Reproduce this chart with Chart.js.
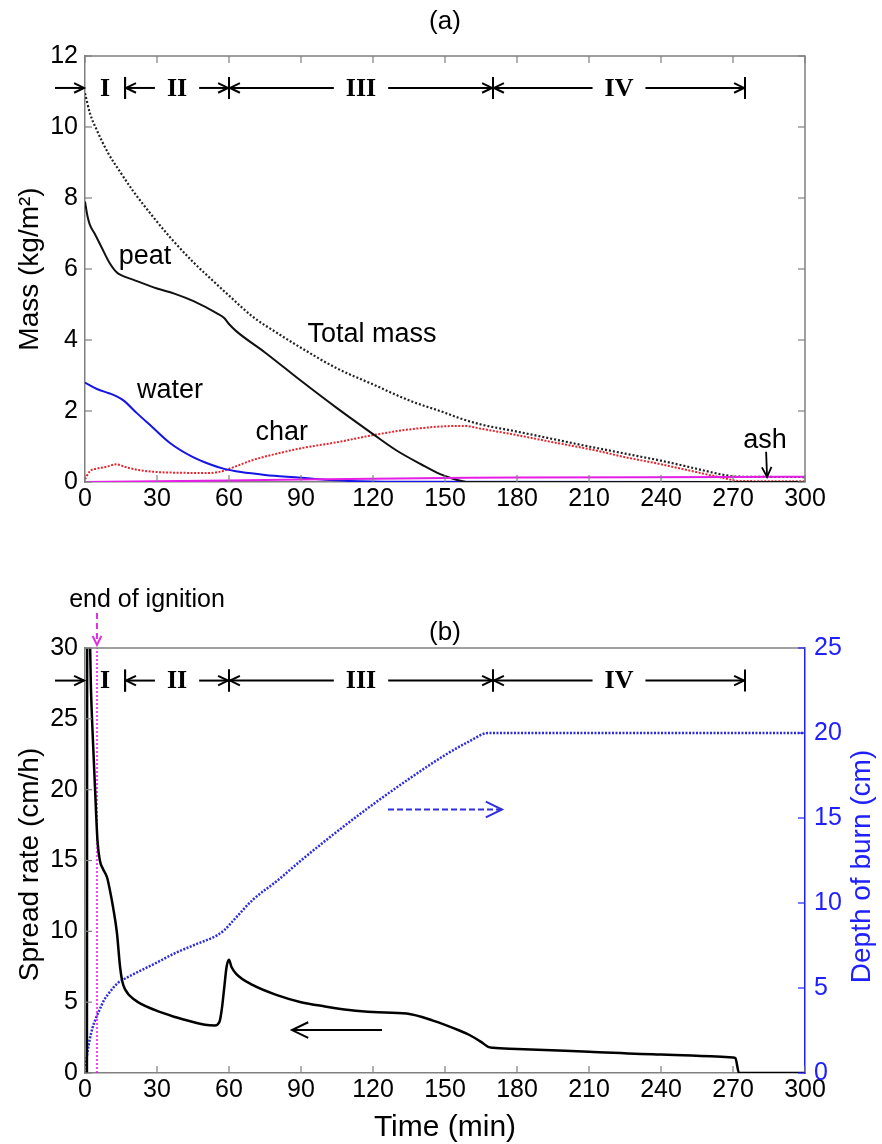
<!DOCTYPE html>
<html>
<head>
<meta charset="utf-8">
<script src="https://cdn.jsdelivr.net/npm/chart.js@4.4.1/dist/chart.umd.min.js"></script>
<style>
  html, body { margin: 0; padding: 0; background: #fff; }
  #wrap { position: relative; width: 882px; height: 1144px; }
  canvas { position: absolute; left: 0; }
  #chartA { top: 0; }
  #chartB { top: 580px; }
</style>
</head>
<body>
<div id="wrap">
  <canvas id="chartA" width="882" height="530"></canvas>
  <canvas id="chartB" width="882" height="564"></canvas>
</div>
<script>
// ---------- (a) mass of each component, kg/m2, against time in min ----------
const totalT    = [0, 2, 5, 9.6, 15, 20, 28, 36, 45, 52, 60, 70, 80, 90, 105, 120, 135, 150, 156, 165, 180, 195, 210, 225, 240, 250, 260, 267, 272, 300];
const totalMass = [10.95, 10.4, 9.9, 9.27, 8.7, 8.2, 7.5, 6.85, 6.2, 5.75, 5.25, 4.65, 4.2, 3.78, 3.2, 2.75, 2.3, 1.95, 1.8, 1.62, 1.42, 1.21, 1.0, 0.8, 0.6, 0.45, 0.29, 0.19, 0.15, 0.14];

const peatT    = [0, 1, 2, 4, 7, 10, 13.3, 15, 20, 30, 37.5, 45, 55, 58, 60, 63, 75, 90, 105, 120, 130, 140, 148, 153, 157, 160, 300];
const peatMass = [7.9, 7.5, 7.25, 7.0, 6.6, 6.2, 5.9, 5.83, 5.7, 5.45, 5.3, 5.1, 4.75, 4.62, 4.45, 4.25, 3.65, 2.85, 2.08, 1.35, 0.88, 0.5, 0.22, 0.1, 0.03, 0, 0];

const waterT    = [0, 5, 10, 13, 16, 21.6, 28, 35.4, 45, 52, 58, 65, 75, 90, 100, 110, 130, 300];
const waterMass = [2.8, 2.62, 2.5, 2.42, 2.3, 1.94, 1.55, 1.1, 0.7, 0.5, 0.37, 0.28, 0.2, 0.12, 0.06, 0.03, 0.01, 0];

const charT    = [0, 2, 5, 9, 13, 17, 22, 30, 40, 50, 57, 62, 70, 80, 90, 105, 120, 135, 150, 158, 165, 180, 195, 212, 225, 240, 250, 260, 267, 272, 300];
const charMass = [0.08, 0.3, 0.38, 0.43, 0.5, 0.42, 0.34, 0.28, 0.26, 0.25, 0.3, 0.42, 0.62, 0.8, 0.95, 1.12, 1.32, 1.48, 1.57, 1.58, 1.5, 1.32, 1.12, 0.9, 0.7, 0.5, 0.35, 0.2, 0.1, 0.03, 0.02];

const ashT    = [0, 30, 60, 90, 120, 150, 180, 270, 300];
const ashMass = [0, 0.02, 0.04, 0.07, 0.09, 0.11, 0.13, 0.14, 0.15];

// ---------- (b) spread rate (cm/h) and depth of burn (cm) ----------
const spreadT = [0, 0.8, 0.9, 2, 2.5, 3.3, 4.2, 5.2, 6.2, 7.5, 9.2, 10.5, 11.7, 13.3, 14.6, 15.5, 16.7, 20.8, 29, 37.5, 45, 50, 54, 56, 57, 58, 59, 60, 61, 63, 70, 80, 90, 100, 110, 120, 134, 145, 156, 160, 165, 168, 170, 180, 210, 240, 270, 271, 272.5, 300];
const spreadRate = [0, 0, 30.5, 30.5, 27, 23.5, 20, 16.4, 15, 14.4, 13.8, 12.8, 11.7, 9.9, 7.5, 6.5, 5.9, 5.15, 4.45, 3.95, 3.6, 3.4, 3.35, 3.6, 4.5, 6, 7.5, 8, 7.5, 7, 6.2, 5.5, 5.0, 4.7, 4.45, 4.3, 4.2, 3.7, 3.0, 2.7, 2.2, 1.85, 1.78, 1.7, 1.5, 1.3, 1.1, 1.05, 0, 0];

const depthT = [0, 1, 2, 3, 4.2, 6, 8, 10, 13.7, 16, 20, 30, 37.5, 45, 55, 58, 62, 70, 80, 90, 105, 120, 135, 150, 160, 168, 300];
const depthBurn = [0, 1.2, 2.0, 2.6, 3.1, 3.7, 4.3, 4.7, 5.3, 5.5, 5.8, 6.5, 7.05, 7.5, 8.1, 8.4, 9.0, 10.2, 11.3, 12.5, 14.2, 15.8, 17.3, 18.7, 19.5, 20, 20];

const ignitionT = [5, 5];
const ignitionY = [0, 30];

// phases of the burn (minutes)
const phaseEdges = [0, 16.7, 60, 170, 275];
const phaseNames = ['I', 'II', 'III', 'IV'];

const xTicks = { min: 0, max: 300, step: 30 };

// ---------- helpers ----------
const SANS = '"Liberation Sans", Arial, sans-serif';
const SERIF = '"Liberation Serif", "Times New Roman", serif';
const tickFont = { family: SANS, size: 25 };

function series(t, v, color, dash, width, axis, mode) {
  return {
    data: t.map((x, i) => ({ x: x, y: v[i] })),
    borderColor: color,
    borderDash: dash || [],
    borderWidth: width || 2,
    pointRadius: 0,
    fill: false,
    tension: 0,
    cubicInterpolationMode: mode || 'default',
    yAxisID: axis || 'y'
  };
}

function line(ctx, x1, y1, x2, y2) {
  ctx.beginPath(); ctx.moveTo(x1, y1); ctx.lineTo(x2, y2); ctx.stroke();
}

function arrow(ctx, x1, y1, x2, y2, head, color, width, dash) {
  ctx.save();
  ctx.strokeStyle = color; ctx.lineWidth = width;
  ctx.setLineDash(dash || []);
  line(ctx, x1, y1, x2, y2);
  ctx.setLineDash([]);
  const a = Math.atan2(y2 - y1, x2 - x1);
  ctx.beginPath();
  ctx.moveTo(x2 - head * Math.cos(a - 0.45), y2 - head * Math.sin(a - 0.45));
  ctx.lineTo(x2, y2);
  ctx.lineTo(x2 - head * Math.cos(a + 0.45), y2 - head * Math.sin(a + 0.45));
  ctx.stroke();
  ctx.restore();
}

function text(ctx, str, x, y, font, color, align) {
  ctx.save();
  ctx.font = font; ctx.fillStyle = color || '#000';
  ctx.textAlign = align || 'center'; ctx.textBaseline = 'middle';
  ctx.fillText(str, x, y);
  ctx.restore();
}

function vtext(ctx, str, x, y, font, color) {
  ctx.save();
  ctx.translate(x, y); ctx.rotate(-Math.PI / 2);
  text(ctx, str, 0, 0, font, color);
  ctx.restore();
}

// the I / II / III / IV arrows along the top of each panel
function drawPhases(chart, yScale, yVal) {
  const ctx = chart.ctx, xs = chart.scales.x;
  const py = chart.scales[yScale].getPixelForValue(yVal);
  const font = 'bold 26px ' + SERIF;
  ctx.save();
  ctx.strokeStyle = '#000'; ctx.lineWidth = 2;
  ctx.font = font;
  phaseNames.forEach((name, i) => {
    const L = xs.getPixelForValue(phaseEdges[i]);
    const R = xs.getPixelForValue(phaseEdges[i + 1]);
    const M = (L + R) / 2;
    const w = ctx.measureText(name).width;
    text(ctx, name, M, py + 1, font, '#000');
    if (i === 0) {
      arrow(ctx, L - 30, py, L - 1, py, 11, '#000', 2);
    } else {
      line(ctx, L, py - 11, L, py + 11);
      arrow(ctx, M - w / 2 - 12, py, L + 1, py, 11, '#000', 2);
      arrow(ctx, M + w / 2 + 12, py, R - 1, py, 11, '#000', 2);
    }
    line(ctx, R, py - 11, R, py + 11);
  });
  ctx.restore();
}

function inwardTicks(ctx, scale, area, side, color) {
  ctx.save();
  ctx.strokeStyle = color; ctx.lineWidth = 1.2;
  scale.ticks.forEach(t => {
    const p = scale.getPixelForValue(t.value);
    if (side === 'bottom') line(ctx, p, area.bottom, p, area.bottom - 7);
    if (side === 'top') line(ctx, p, area.top, p, area.top + 7);
    if (side === 'left') line(ctx, area.left, p, area.left + 7, p);
    if (side === 'right') line(ctx, area.right, p, area.right - 7, p);
  });
  ctx.restore();
}

function xScaleOpts(h) {
  return {
    type: 'linear', min: xTicks.min, max: xTicks.max,
    ticks: { stepSize: xTicks.step, font: tickFont, color: '#000', padding: 2, maxRotation: 0, autoSkip: false },
    grid: { display: false, drawTicks: false },
    border: { color: '#808080', width: 1.5 },
    afterFit(s) { s.height = h; }
  };
}

// ---------- panel (a) ----------
const panelA = {
  id: 'panelA',
  afterDraw(chart) {
    const { ctx, chartArea: a, scales: { x, y } } = chart;
    const P = (t, v) => [x.getPixelForValue(t), y.getPixelForValue(v)];
    ctx.save();
    ctx.strokeStyle = '#808080'; ctx.lineWidth = 1.5;
    ctx.beginPath(); ctx.moveTo(a.left, a.top); ctx.lineTo(a.right, a.top); ctx.lineTo(a.right, a.bottom); ctx.stroke();
    ctx.restore();
    inwardTicks(ctx, x, a, 'bottom', '#808080');
    inwardTicks(ctx, x, a, 'top', '#808080');
    inwardTicks(ctx, y, a, 'left', '#808080');
    inwardTicks(ctx, y, a, 'right', '#808080');

    text(ctx, '(a)', (a.left + a.right) / 2, a.top - 34, '26px ' + SANS);
    vtext(ctx, 'Mass (kg/m²)', 30, (a.top + a.bottom) / 2, '28px ' + SANS);

    const lab = '27px ' + SANS;
    let p;
    p = P(25, 6.34);   text(ctx, 'peat', p[0], p[1], lab);
    p = P(119.6, 4.14); text(ctx, 'Total mass', p[0], p[1], lab);
    p = P(35.4, 2.59); text(ctx, 'water', p[0], p[1], lab);
    p = P(82, 1.38);   text(ctx, 'char', p[0], p[1], lab);
    p = P(283.3, 1.18); text(ctx, 'ash', p[0], p[1], lab);
    const s = P(283.8, 0.85), e = P(284.2, 0.14);
    arrow(ctx, s[0], s[1], e[0], e[1], 11, '#000', 1.8);

    drawPhases(chart, 'y', 11.1);
  }
};

new Chart(document.getElementById('chartA'), {
  type: 'line',
  data: {
    datasets: [
      series(ashT, ashMass, '#e51ee5', [], 2, 'y', 'monotone'),
      series(peatT, peatMass, '#111111', [], 2, 'y', 'monotone'),
      series(waterT, waterMass, '#1414e6', [], 2, 'y', 'monotone'),
      series(charT, charMass, '#e8242c', [2, 1.5], 2, 'y', 'monotone'),
      series(totalT, totalMass, '#222222', [2, 2], 2.2, 'y', 'monotone')
    ]
  },
  options: {
    responsive: false, animation: false,
    layout: { padding: { top: 56, right: 77, left: 0, bottom: 0 } },
    plugins: { legend: { display: false }, tooltip: { enabled: false } },
    scales: {
      x: xScaleOpts(48),
      y: {
        min: 0, max: 12,
        ticks: { stepSize: 2, font: tickFont, color: '#000', padding: 7 },
        grid: { display: false, drawTicks: false },
        border: { color: '#808080', width: 1.5 },
        afterFit(s) { s.width = 85; }
      }
    }
  },
  plugins: [panelA]
});

// ---------- panel (b) ----------
const panelB = {
  id: 'panelB',
  afterDraw(chart) {
    const { ctx, chartArea: a, scales: { x, y, y1 } } = chart;
    ctx.save();
    ctx.strokeStyle = '#808080'; ctx.lineWidth = 1.5;
    line(ctx, a.left, a.top, a.right, a.top);
    ctx.restore();
    inwardTicks(ctx, x, a, 'bottom', '#808080');
    inwardTicks(ctx, y, a, 'left', '#808080');
    inwardTicks(ctx, y1, a, 'right', '#2020ff');

    text(ctx, '(b)', (a.left + a.right) / 2, a.top - 15, '26px ' + SANS);
    vtext(ctx, 'Spread rate (cm/h)', 30, (a.top + a.bottom) / 2 + 4, '28px ' + SANS);
    vtext(ctx, 'Depth of burn (cm)', 862, (a.top + a.bottom) / 2 + 6, '28px ' + SANS, '#2020ff');
    text(ctx, 'Time (min)', (a.left + a.right) / 2, 548, '30px ' + SANS);

    // end of ignition marker
    const ix = x.getPixelForValue(ignitionT[0]);
    text(ctx, 'end of ignition', 147, 20, '25px ' + SANS);
    arrow(ctx, ix, 33, ix, a.top - 3, 10, '#e030e0', 2, [6, 4]);

    drawPhases(chart, 'y', 27.7);

    // direction arrows: spread rate -> left axis, depth -> right axis
    arrow(ctx, x.getPixelForValue(123.75), y.getPixelForValue(3.03),
               x.getPixelForValue(86.25), y.getPixelForValue(3.03), 18, '#000', 2);
    arrow(ctx, x.getPixelForValue(126.25), y1.getPixelForValue(15.5),
               x.getPixelForValue(173.75), y1.getPixelForValue(15.5), 18, '#3030e0', 2, [6, 3]);
  }
};

new Chart(document.getElementById('chartB'), {
  type: 'line',
  data: {
    datasets: [
      series(spreadT, spreadRate, '#000000', [], 2.5, 'y', 'monotone'),
      series(ignitionT, ignitionY, '#ff00ff', [2, 2], 1.5, 'y'),
      series(depthT, depthBurn, '#2b2be0', [2, 1.5], 2.5, 'y1', 'monotone')
    ]
  },
  options: {
    responsive: false, animation: false,
    layout: { padding: { top: 68, right: 0, left: 0, bottom: 0 } },
    plugins: { legend: { display: false }, tooltip: { enabled: false } },
    scales: {
      x: xScaleOpts(71),
      y: {
        position: 'left', min: 0, max: 30,
        ticks: { stepSize: 5, font: tickFont, color: '#000', padding: 7 },
        grid: { display: false, drawTicks: false },
        border: { color: '#808080', width: 1.5 },
        afterFit(s) { s.width = 85; }
      },
      y1: {
        position: 'right', min: 0, max: 25,
        ticks: { stepSize: 5, font: tickFont, color: '#2020ff', padding: 9 },
        grid: { display: false, drawTicks: false },
        border: { color: '#2020ff', width: 1.5 },
        afterFit(s) { s.width = 77; }
      }
    }
  },
  plugins: [panelB]
});
</script>
</body>
</html>
